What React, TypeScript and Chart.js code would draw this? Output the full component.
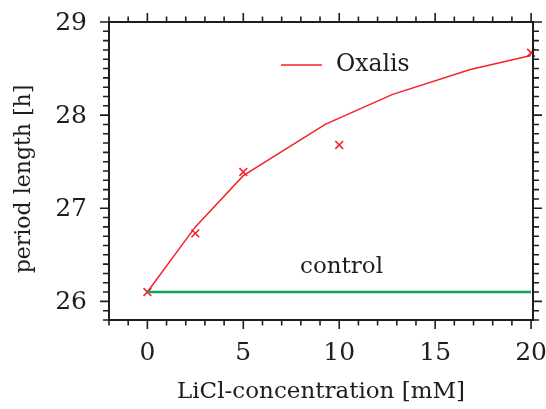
import { useEffect, useRef } from "react";
import { Chart, registerables } from "chart.js";

Chart.register(...registerables);

// ---- data ----
const measuredConcentration = [0, 2.5, 5, 10, 20];
const measuredPeriod = [26.1, 26.73, 27.39, 27.68, 28.67];
const modelConcentration = [0, 2.5, 5, 9.27, 12.75, 16.83, 20];
const modelPeriod = [26.1, 26.8, 27.35, 27.9, 28.22, 28.49, 28.64];
const controlConcentration = [0, 20];
const controlPeriod = [26.1, 26.1];
const xTickValues = [0, 5, 10, 15, 20];
const yTickValues = [26, 27, 28, 29];
const seriesName = "Oxalis";
const controlName = "control";
const xTitle = "LiCl-concentration [mM]";
const yTitle = "period length [h]";

const RED = "#f5222a";
const GREEN = "#12a454";
const INK = "#1e1e1e";
const FONT = "'DejaVu Serif', serif";

const framePlugin = {
  id: "frame",
  afterDraw(chart: any) {
    const ctx = chart.ctx;
    const { left, right, top, bottom } = chart.chartArea;
    const xs = chart.scales.x;
    const ys = chart.scales.y;
    ctx.save();
    ctx.strokeStyle = INK;
    ctx.lineWidth = 2;
    ctx.strokeRect(left, top, right - left, bottom - top);
    ctx.lineWidth = 1.6;
    ctx.beginPath();
    for (let v = Math.ceil(xs.min); v <= xs.max + 1e-9; v += 1) {
      const px = xs.getPixelForValue(v);
      const len = v % 5 === 0 ? 9 : 5.5;
      ctx.moveTo(px, bottom);
      ctx.lineTo(px, bottom + len);
      ctx.moveTo(px, top);
      ctx.lineTo(px, top - len);
    }
    for (let i = Math.ceil(ys.min * 10); i <= Math.floor(ys.max * 10 + 1e-6); i++) {
      const py = ys.getPixelForValue(i / 10);
      const len = i % 10 === 0 ? 9 : 6;
      ctx.moveTo(left, py);
      ctx.lineTo(left - len, py);
      ctx.moveTo(right, py);
      ctx.lineTo(right + len, py);
    }
    ctx.stroke();

    ctx.fillStyle = INK;
    ctx.font = `25px ${FONT}`;
    ctx.textAlign = "center";
    ctx.textBaseline = "middle";
    xTickValues.forEach((v) => {
      ctx.fillText(String(v), xs.getPixelForValue(v), 353);
    });
    ctx.textAlign = "right";
    yTickValues.forEach((v) => {
      ctx.fillText(String(v), 87, ys.getPixelForValue(v) + 1);
    });

    ctx.font = `23px ${FONT}`;
    ctx.textAlign = "center";
    ctx.textBaseline = "alphabetic";
    ctx.fillText(xTitle, (left + right) / 2, 398);
    ctx.save();
    ctx.font = `22px ${FONT}`;
    ctx.translate(30, (top + bottom) / 2 + 8);
    ctx.rotate(-Math.PI / 2);
    ctx.fillText(yTitle, 0, 0);
    ctx.restore();

    ctx.strokeStyle = RED;
    ctx.lineWidth = 1.5;
    ctx.beginPath();
    ctx.moveTo(281, 65);
    ctx.lineTo(322, 65);
    ctx.stroke();
    ctx.font = `23.5px ${FONT}`;
    ctx.textAlign = "left";
    ctx.textBaseline = "middle";
    ctx.fillText(seriesName, 336, 65);

    ctx.font = `23px ${FONT}`;
    ctx.textBaseline = "alphabetic";
    ctx.fillText(controlName, 300, 273);
    ctx.restore();
  },
};

export default function App() {
  const ref = useRef<HTMLCanvasElement>(null);
  useEffect(() => {
    document.body.style.margin = "0";
    const chart = new Chart(ref.current!, {
      type: "scatter",
      data: {
        datasets: [
          {
            label: "control",
            data: controlConcentration.map((x, i) => ({ x, y: controlPeriod[i] })),
            showLine: true,
            borderColor: GREEN,
            borderWidth: 2.5,
            pointRadius: 0,
          },
          {
            label: seriesName + " model",
            data: modelConcentration.map((x, i) => ({ x, y: modelPeriod[i] })),
            showLine: true,
            borderColor: RED,
            borderWidth: 1.5,
            pointRadius: 0,
          },
          {
            label: seriesName,
            data: measuredConcentration.map((x, i) => ({ x, y: measuredPeriod[i] })),
            showLine: false,
            borderColor: RED,
            backgroundColor: RED,
            borderWidth: 1.6,
            pointStyle: "crossRot",
            pointRadius: 5.5,
          },
        ],
      },
      options: {
        responsive: false,
        animation: false,
        clip: false,
        layout: { padding: { left: 109, right: 13, top: 22, bottom: 89 } },
        plugins: { legend: { display: false }, tooltip: { enabled: false } },
        scales: {
          x: { type: "linear", min: -2, max: 20.1, display: false },
          y: { type: "linear", min: 25.8, max: 29, display: false },
        },
      },
      plugins: [framePlugin],
    } as any);
    return () => chart.destroy();
  }, []);
  return <canvas ref={ref} width={546} height={409} />;
}
